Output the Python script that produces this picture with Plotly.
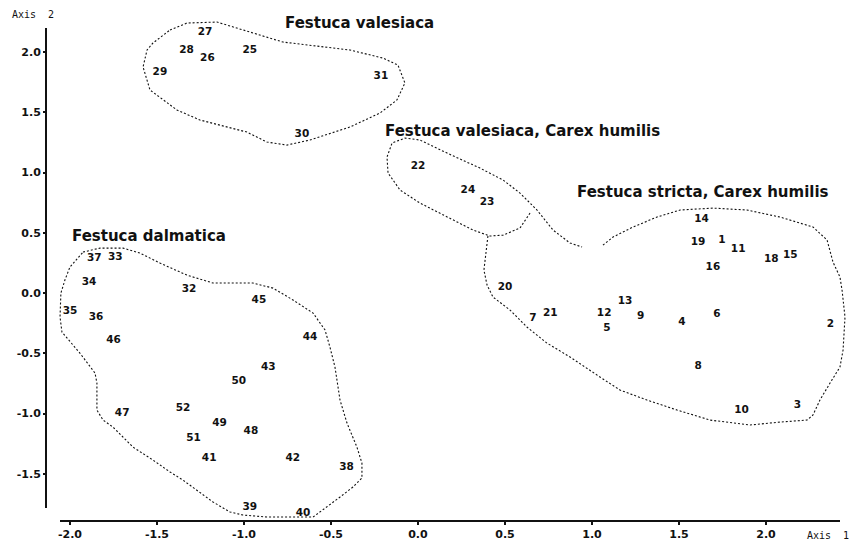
import plotly.graph_objects as go

# Ordination scores of the releves (Axis 1, Axis 2), grouped by vegetation type
valesiaca_ids = ["25", "26", "27", "28", "29", "30", "31"]
valesiaca_x = [-0.966, -1.21, -1.224, -1.33, -1.483, -0.667, -0.213]
valesiaca_y = [2.01, 1.95, 2.16, 2.01, 1.83, 1.32, 1.80]

val_carex_ids = ["22", "23", "24"]
val_carex_x = [0.0, 0.397, 0.287]
val_carex_y = [1.05, 0.755, 0.85]

stricta_ids = ["1", "2", "3", "4", "5", "6", "7", "8", "9", "10", "11", "12",
               "13", "14", "15", "16", "18", "19", "20", "21"]
stricta_x = [1.747, 2.37, 2.18, 1.517, 1.086, 1.718, 0.66, 1.61, 1.28, 1.86, 1.84, 1.07,
             1.19, 1.63, 2.14, 1.695, 2.03, 1.61, 0.50, 0.76]
stricta_y = [0.44, -0.26, -0.93, -0.24, -0.29, -0.175, -0.21, -0.61, -0.19, -0.97, 0.36, -0.17,
             -0.07, 0.61, 0.31, 0.215, 0.28, 0.42, 0.05, -0.17]

dalmatica_ids = ["32", "33", "34", "35", "36", "37", "38", "39", "40", "41", "42",
                 "43", "44", "45", "46", "47", "48", "49", "50", "51", "52"]
dalmatica_x = [-1.316, -1.74, -1.89, -2.0, -1.85, -1.86, -0.41, -0.966, -0.66, -1.20, -0.72,
               -0.86, -0.62, -0.914, -1.75, -1.70, -0.96, -1.14, -1.03, -1.29, -1.35]
dalmatica_y = [0.03, 0.30, 0.09, -0.15, -0.20, 0.29, -1.45, -1.78, -1.83, -1.37, -1.37,
               -0.62, -0.365, -0.06, -0.39, -1.00, -1.15, -1.08, -0.73, -1.21, -0.955]

# Hand-drawn group envelopes (Axis 1, Axis 2)
env_valesiaca_x = [-1.425, -1.328, -1.155, -0.966, -0.776, -0.391, -0.201, -0.115, -0.075,
                   -0.121, -0.218, -0.391, -0.621, -0.753, -0.868, -0.983, -1.098, -1.253,
                   -1.385, -1.540, -1.580, -1.557, -1.523, -1.425]
env_valesiaca_y = [2.183, 2.241, 2.249, 2.166, 2.083, 2.017, 1.950, 1.892, 1.743,
                   1.602, 1.494, 1.378, 1.270, 1.228, 1.253, 1.336, 1.378, 1.436,
                   1.519, 1.685, 1.876, 2.017, 2.075, 2.183]

env_val_carex_x = [0.644, 0.586, 0.489, 0.414, 0.316, 0.167, 0.011, -0.103, -0.172, -0.178,
                   -0.149, -0.075, 0.011, 0.167, 0.356, 0.489, 0.586, 0.684, 0.776, 0.874, 0.943]
env_val_carex_y = [0.664, 0.539, 0.481, 0.473, 0.523, 0.631, 0.747, 0.855, 0.996, 1.129,
                   1.245, 1.286, 1.270, 1.162, 1.037, 0.938, 0.830, 0.689, 0.523, 0.415, 0.382]

env_stricta_x = [0.402, 0.391, 0.379, 0.397, 0.431, 0.529, 0.626, 0.741, 0.874, 1.046, 1.161,
                 1.316, 1.489, 1.678, 1.908, 2.080, 2.236, 2.270, 2.310, 2.368, 2.425, 2.443,
                 2.454, 2.437, 2.425, 2.385, 2.351, 2.270, 2.080, 1.891, 1.695, 1.506, 1.374,
                 1.236, 1.121, 1.063]
env_stricta_y = [0.473, 0.315, 0.191, 0.066, -0.033, -0.141, -0.282, -0.415, -0.531, -0.697,
                 -0.805, -0.888, -0.971, -1.054, -1.095, -1.071, -1.054, -1.012, -0.888, -0.747,
                 -0.614, -0.473, -0.199, 0.025, 0.133, 0.257, 0.440, 0.548, 0.631, 0.689, 0.705,
                 0.689, 0.631, 0.548, 0.465, 0.398]

env_dalmatica_x = [-1.925, -1.828, -1.695, -1.598, -1.483, -1.328, -1.178, -0.948, -0.833,
                   -0.718, -0.603, -0.534, -0.506, -0.477, -0.448, -0.408, -0.351, -0.322,
                   -0.322, -0.374, -0.448, -0.523, -0.603, -0.718, -0.868, -1.006, -1.080,
                   -1.178, -1.270, -1.351, -1.425, -1.523, -1.638, -1.753, -1.810, -1.845,
                   -1.845, -1.856, -1.943, -2.046, -2.057, -2.052, -2.029, -2.000, -1.925]
env_dalmatica_y = [0.340, 0.373, 0.373, 0.332, 0.249, 0.149, 0.083, 0.083, 0.041,
                   -0.058, -0.166, -0.307, -0.448, -0.614, -0.888, -1.079, -1.278, -1.411,
                   -1.535, -1.610, -1.693, -1.776, -1.859, -1.859, -1.859, -1.842, -1.817,
                   -1.734, -1.635, -1.552, -1.485, -1.386, -1.278, -1.112, -1.054, -0.971,
                   -0.747, -0.664, -0.498, -0.324, -0.199, 0.000, 0.108, 0.216, 0.340]

# Group names and where they are written
group_names = ["Festuca valesiaca", "Festuca valesiaca, Carex humilis",
               "Festuca stricta, Carex humilis", "Festuca dalmatica"]
group_name_x = [-0.776, -0.201, 0.902, -2.0]
group_name_y = [2.241, 1.344, 0.838, 0.473]

# Axis ticks
x_ticks = [-2.0, -1.5, -1.0, -0.5, 0.0, 0.5, 1.0, 1.5, 2.0]
x_tick_labels = ["-2.0", "-1.5", "-1.0", "-0.5", "0.0", "0.5", "1.0", "1.5", "2.0"]
y_ticks = [-1.5, -1.0, -0.5, 0.0, 0.5, 1.0, 1.5, 2.0]
y_tick_labels = ["-1.5", "-1.0", "-0.5", "0.0", "0.5", "1.0", "1.5", "2.0"]

W, H = 853, 542
INK = "#111111"
label_font = dict(family="DejaVu Sans", size=10.5, color=INK, weight="bold")
tick_font = dict(family="DejaVu Sans", size=11, color=INK, weight="bold")
env_line = dict(color=INK, width=1.1, dash="2px,2px")

fig = go.Figure()

for ex, ey in [(env_valesiaca_x, env_valesiaca_y), (env_val_carex_x, env_val_carex_y),
               (env_stricta_x, env_stricta_y), (env_dalmatica_x, env_dalmatica_y)]:
    fig.add_trace(go.Scatter(x=ex, y=ey, mode="lines", line=env_line,
                             hoverinfo="skip", showlegend=False))

for ids, xs, ys in [(valesiaca_ids, valesiaca_x, valesiaca_y),
                    (val_carex_ids, val_carex_x, val_carex_y),
                    (stricta_ids, stricta_x, stricta_y),
                    (dalmatica_ids, dalmatica_x, dalmatica_y)]:
    fig.add_trace(go.Scatter(x=xs, y=ys, mode="text", text=ids,
                             textposition="middle center", textfont=label_font,
                             cliponaxis=False, showlegend=False))

for name, gx, gy in zip(group_names, group_name_x, group_name_y):
    fig.add_annotation(x=gx, y=gy, xref="x", yref="y", text=name, showarrow=False,
                       xanchor="left", yanchor="middle",
                       font=dict(family="DejaVu Sans", size=15, color=INK, weight="bold"))

# Axis titles
fig.add_annotation(x=10 / W, y=1 - 15 / H, xref="paper", yref="paper",
                   text="Axis\u00a0\u00a02", showarrow=False, xanchor="left", yanchor="middle",
                   font=dict(family="DejaVu Sans Mono", size=10, color=INK))
fig.add_annotation(x=(W - 2) / W, y=1 - 535 / H, xref="paper", yref="paper",
                   text="Axis\u00a0\u00a01", showarrow=False, xanchor="right", yanchor="middle",
                   font=dict(family="DejaVu Sans Mono", size=10, color=INK))

# Axis lines (the two axes do not meet at the origin corner)
fig.add_shape(type="line", xref="paper", yref="paper",
              x0=46 / W, x1=46 / W, y0=1 - 508 / H, y1=1 - 28 / H,
              line=dict(color=INK, width=2))
fig.add_shape(type="line", xref="paper", yref="paper",
              x0=60 / W, x1=840 / W, y0=1 - 521 / H, y1=1 - 521 / H,
              line=dict(color=INK, width=2))

fig.update_layout(
    width=W, height=H,
    margin=dict(l=0, r=0, t=0, b=0),
    paper_bgcolor="white", plot_bgcolor="white",
    showlegend=False,
    xaxis=dict(range=[-2.402, 2.500], domain=[0, 1], anchor="free", position=1 - 521 / H,
               showgrid=False, zeroline=False, showline=False,
               tickmode="array", tickvals=x_ticks, ticktext=x_tick_labels,
               ticks="outside", ticklen=3, tickwidth=1.5, tickcolor=INK,
               tickfont=tick_font, automargin=False, fixedrange=True),
    yaxis=dict(range=[-2.066, 2.432], domain=[0, 1], anchor="free", position=46 / W,
               showgrid=False, zeroline=False, showline=False,
               tickmode="array", tickvals=y_ticks, ticktext=y_tick_labels,
               ticks="outside", ticklen=3, tickwidth=1.5, tickcolor=INK,
               tickfont=tick_font, automargin=False, fixedrange=True),
)

fig.write_html("out.html")
